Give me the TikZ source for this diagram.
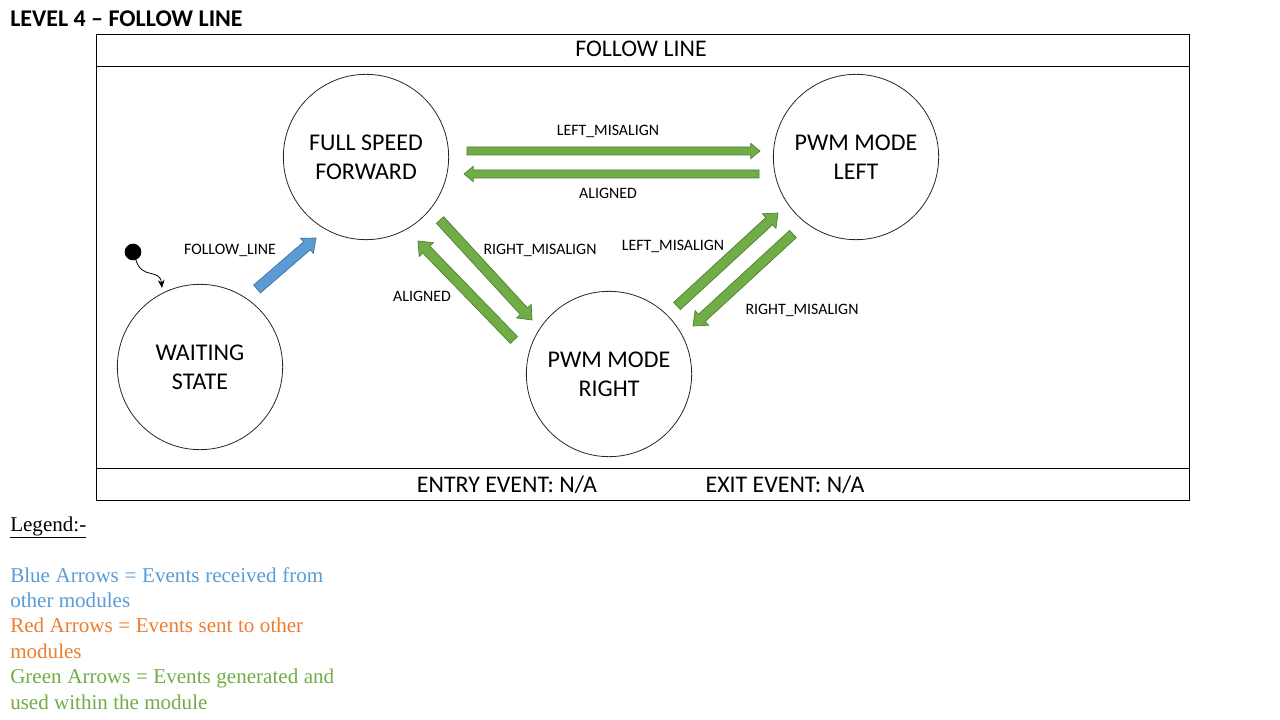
\documentclass[tikz,border=0pt]{standalone}
\usepackage{fontspec}
\setmainfont{Carlito}
\newfontfamily\legendfont{Liberation Serif}
\usetikzlibrary{calc,arrows.meta}
\definecolor{bluefill}{HTML}{5B9BD5}
\definecolor{blueedge}{HTML}{41719C}
\definecolor{greenfill}{HTML}{70AD47}
\definecolor{greenedge}{HTML}{507E32}
\definecolor{orangetext}{HTML}{ED7D31}
% #1 style, #2 from, #3 to, #4 half shaft, #5 half head, #6 head length
\newcommand{\blockarr}[6]{%
  \coordinate (ba) at ($(#3)!#6!(#2)$);
  \draw[#1] ($(#2)!#4!90:(#3)$) -- ($(ba)!#4!90:(#3)$) -- ($(ba)!#5!90:(#3)$) -- (#3)
    -- ($(ba)!#5!-90:(#3)$) -- ($(ba)!#4!-90:(#3)$) -- ($(#2)!#4!-90:(#3)$) -- cycle;}
\begin{document}
\begin{tikzpicture}[x=0.75pt,y=-0.75pt,
  state/.style={circle,draw=black!85,line width=0.6pt,minimum size=124pt,inner sep=0pt,
    align=center,font=\fontsize{18}{21.75}\selectfont},
  lbl/.style={font=\fontsize{11.9}{14}\selectfont,text depth=0pt,inner sep=0pt},
  big/.style={font=\fontsize{17.9}{20}\selectfont,text depth=0pt,inner sep=0pt},
  garrow/.style={fill=greenfill,draw=greenedge,line width=0.5pt,line join=miter},
  barrow/.style={fill=bluefill,draw=blueedge,line width=0.5pt,line join=miter},
  leg/.style={anchor=base west,inner sep=0pt,font=\legendfont\fontsize{15.8}{18}\selectfont}]
\useasboundingbox (0,0) rectangle (1280,720);

% title
\node[anchor=west,inner sep=0pt,font=\bfseries\fontsize{18}{20}\selectfont,text depth=0pt] (title) at (10,19) {LEVEL 4 – FOLLOW LINE};

% frame
\draw[line width=0.75pt] (96,35) rectangle (1189,500);
\draw[line width=0.75pt] (96,67) -- (1189,67);
\draw[line width=0.75pt] (96,468) -- (1189,468);
\node[big] (hdr) at (641,49) {FOLLOW LINE};
\node[big] (entry) at (507,484) {ENTRY EVENT: N/A};
\node[big] (exit) at (785,484) {EXIT EVENT: N/A};

% states
\node[state] (fsf) at (366,157) {FULL SPEED\\FORWARD};
\node[state] (pml) at (856,157) {PWM MODE\\LEFT};
\node[state] (ws) at (200,367) {WAITING\\STATE};
\node[state] (pmr) at (609,374) {PWM MODE\\RIGHT};

% initial
\node[circle,fill=black,minimum size=12.5pt,inner sep=0pt] (init) at (133,252) {};
\coordinate (initend) at (162,288);
\draw[-{Stealth[length=6pt,width=5pt]},line width=0.6pt] (init.-70) .. controls (142,280) and (160,268) .. (initend);

% arrow endpoints
\coordinate (b1s) at (257,289); \coordinate (b1e) at (316,238);
\coordinate (g1s) at (467,151); \coordinate (g1e) at (760,151);
\coordinate (g2s) at (759,174); \coordinate (g2e) at (464,174);
\coordinate (g3s) at (440,220); \coordinate (g3e) at (532,320);
\coordinate (g4s) at (514,340); \coordinate (g4e) at (418,241);
\coordinate (g5s) at (677,306); \coordinate (g5e) at (778,213);
\coordinate (g6s) at (793,234); \coordinate (g6e) at (693,326);

\blockarr{barrow}{b1s}{b1e}{3.9pt}{7.5pt}{9pt}
\blockarr{garrow}{g1s}{g1e}{3pt}{5.8pt}{7pt}
\blockarr{garrow}{g2s}{g2e}{3pt}{5.8pt}{7pt}
\blockarr{garrow}{g3s}{g3e}{3.7pt}{7.5pt}{9pt}
\blockarr{garrow}{g4s}{g4e}{3.7pt}{7.5pt}{9pt}
\blockarr{garrow}{g5s}{g5e}{3.7pt}{7.5pt}{9pt}
\blockarr{garrow}{g6s}{g6e}{3.7pt}{7.5pt}{9pt}

% labels
\node[lbl] (l1) at (230,249) {FOLLOW\_LINE};
\node[lbl] (l2) at (608,130) {LEFT\_MISALIGN};
\node[lbl] (l3) at (608,193) {ALIGNED};
\node[lbl] (l4) at (540,249) {RIGHT\_MISALIGN};
\node[lbl] (l5) at (422,296) {ALIGNED};
\node[lbl] (l6) at (673,245) {LEFT\_MISALIGN};
\node[lbl] (l7) at (802,309) {RIGHT\_MISALIGN};

% legend
\node[leg] (lg0) at (10,531) {\underline{Legend:-}};
\node[leg,text=bluefill] (lg1) at (10,582) {\makebox[234.75pt][s]{Blue Arrows = Events received from}};
\node[leg,text=bluefill] (lg2) at (10,607) {other modules};
\node[leg,text=orangetext] (lg3) at (10,632) {\makebox[219.75pt][s]{Red Arrows = Events sent to other}};
\node[leg,text=orangetext] (lg4) at (10,658) {modules};
\node[leg,text=greenfill] (lg5) at (10,683) {\makebox[243pt][s]{Green Arrows = Events generated and}};
\node[leg,text=greenfill] (lg6) at (10,709) {used within the module};
\end{tikzpicture}
\end{document}
